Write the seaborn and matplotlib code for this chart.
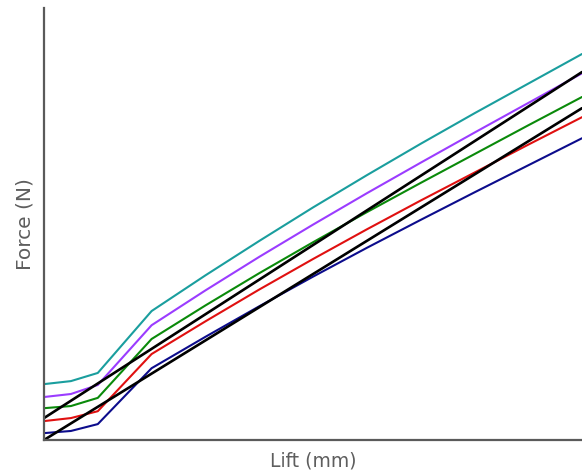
import matplotlib
matplotlib.use("Agg")
import matplotlib.pyplot as plt
import seaborn as sns
import pandas as pd

# Lift positions (mm) shared by the measured curves
lift = [0, 0.5, 1, 2, 3, 4, 5, 6, 7, 8, 9, 10]

# Measured force curves (N)
force_teal = [13.0, 13.7, 15.6, 30.0, 38.3, 46.3, 54.1, 61.6, 68.9, 76.0, 82.9, 89.8]
force_purple = [10.0, 10.7, 12.8, 26.7, 34.8, 42.6, 50.1, 57.4, 64.5, 71.5, 78.4, 85.3]
force_green = [7.4, 7.9, 9.8, 23.5, 31.3, 38.8, 46.0, 53.0, 59.8, 66.5, 73.2, 79.8]
force_red = [4.4, 5.1, 6.7, 20.0, 27.6, 35.0, 42.1, 49.0, 55.7, 62.2, 68.7, 75.1]
force_navy = [1.6, 2.1, 3.7, 16.7, 24.0, 31.1, 38.0, 44.7, 51.2, 57.6, 63.9, 70.2]

# Linear reference fits (end points)
fit_lift = [0, 10]
fit_upper = [5.1, 85.6]
fit_lower = [0.0, 77.2]

series = {
    "teal": force_teal,
    "purple": force_purple,
    "green": force_green,
    "red": force_red,
    "navy": force_navy,
}
palette = {
    "teal": "#1a9e9e",
    "purple": "#9b3cff",
    "green": "#0a8a0a",
    "red": "#e01010",
    "navy": "#0c0c8c",
}

rows = []
for name, vals in series.items():
    for x, y in zip(lift, vals):
        rows.append({"lift": x, "force": y, "curve": name})
df = pd.DataFrame(rows)

fits = pd.DataFrame(
    [{"lift": x, "force": y, "fit": "upper"} for x, y in zip(fit_lift, fit_upper)]
    + [{"lift": x, "force": y, "fit": "lower"} for x, y in zip(fit_lift, fit_lower)]
)

sns.set_style("white")
plt.rcParams["font.family"] = ["DejaVu Sans"]

fig = plt.figure(figsize=(5.82, 4.73), dpi=100)
ax = fig.add_axes([44 / 582, 33 / 473, 1 - 44 / 582, 432 / 473])

sns.lineplot(data=df, x="lift", y="force", hue="curve", palette=palette,
             linewidth=1.5, legend=False, ax=ax, sort=False)
sns.lineplot(data=fits, x="lift", y="force", units="fit", estimator=None,
             color="black", linewidth=1.9, legend=False, ax=ax)

ax.set_xlim(0, 10)
ax.set_ylim(0, 100.5)
ax.set_xticks([])
ax.set_yticks([])
ax.set_xlabel("Lift (mm)", fontsize=13.5, color="#5e5e5e", labelpad=8)
ax.set_ylabel("Force (N)", fontsize=14.5, color="#5e5e5e", labelpad=7)

for side in ("top", "right"):
    ax.spines[side].set_visible(False)
for side in ("left", "bottom"):
    ax.spines[side].set_color("#5a5a5a")
    ax.spines[side].set_linewidth(1.6)

fig.savefig("out.png", dpi=100)
